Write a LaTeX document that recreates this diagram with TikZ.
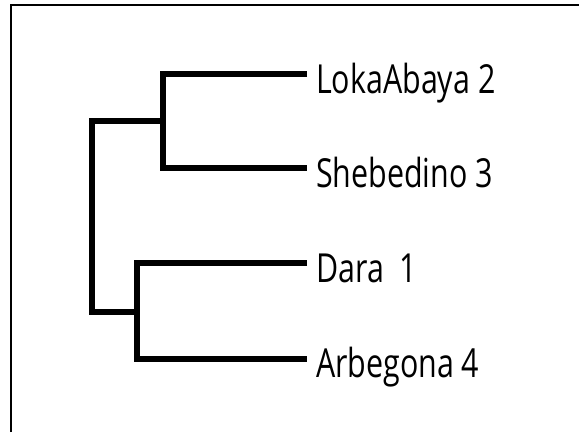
\documentclass[tikz,border=0pt]{standalone}
\usepackage{fontspec}
\newfontfamily\labfont[FakeStretch=0.76]{Open Sans}
\begin{document}
\begin{tikzpicture}[x=1pt,y=-1pt,
  branch/.style={line width=6pt,line cap=butt,line join=miter},
  frameline/.style={line width=2pt},
  leaf/.style={anchor=base west,inner sep=0pt,font=\labfont\fontsize{40}{40}\selectfont}]
\useasboundingbox (0,0) rectangle (579,432);
\draw[frameline] (11,432) -- (11,5) -- (579,5);
% internal nodes
\coordinate (a) at (163,121);
\coordinate (b) at (137,311.5);
\coordinate (r) at (92,216);
% leaf ends
\coordinate (e1) at (307,74);
\coordinate (e2) at (307,168);
\coordinate (e3) at (307,263);
\coordinate (e4) at (307,359);
\node[leaf] (t1) at (316,93) {LokaAbaya 2};
\node[leaf] (t2) at (316,187) {Shebedino 3};
\node[leaf] (t3) at (316,282) {Dara\ \ 1};
\node[leaf] (t4) at (316,377) {Arbegona 4};
\draw[branch] (e1) -| (a) |- (e2);
\draw[branch] (e3) -| (b) |- (e4);
\draw[branch] (a) -| (r) |- (b);
\end{tikzpicture}
\end{document}
